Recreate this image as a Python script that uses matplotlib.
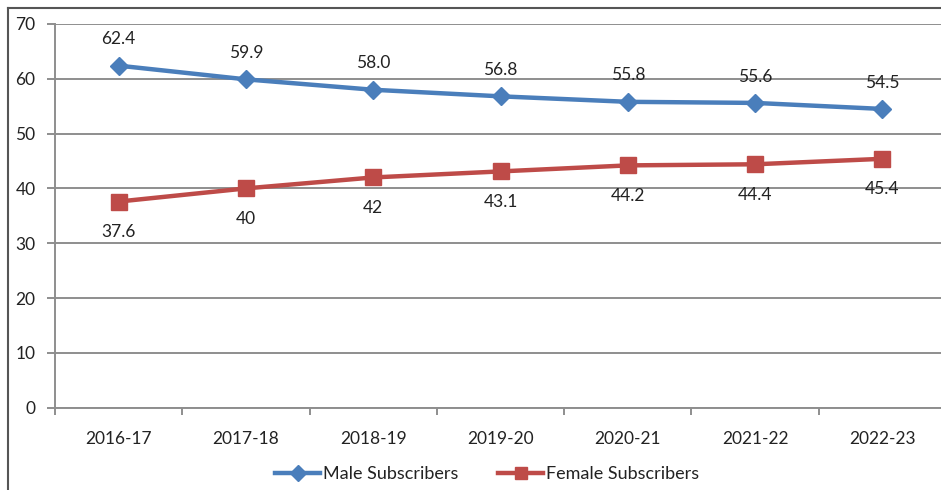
import matplotlib
matplotlib.use("Agg")
import matplotlib.pyplot as plt
from matplotlib.lines import Line2D
import numpy as np

years = ["2016-17", "2017-18", "2018-19", "2019-20", "2020-21", "2021-22", "2022-23"]
male = [62.4, 59.9, 58.0, 56.8, 55.8, 55.6, 54.5]
female = [37.6, 40, 42, 43.1, 44.2, 44.4, 45.4]
male_labels = ["62.4", "59.9", "58.0", "56.8", "55.8", "55.6", "54.5"]
female_labels = ["37.6", "40", "42", "43.1", "44.2", "44.4", "45.4"]

plt.rcParams['font.family'] = ['Lato', 'DejaVu Sans']

W, H = 941, 490
fig = plt.figure(figsize=(W / 100, H / 100), dpi=100)

# chart border (left and top visible)
fig.add_artist(Line2D([8 / W, 8 / W], [0, 1 - 8 / H], color="#555555", lw=1.5, transform=fig.transFigure))
fig.add_artist(Line2D([8 / W, 1], [1 - 8 / H, 1 - 8 / H], color="#555555", lw=1.5, transform=fig.transFigure))

left, right = 55 / W, 946 / W
bottom, top = 1 - 407.6 / H, 1 - 24 / H
ax = fig.add_axes([left, bottom, right - left, top - bottom])

x = np.arange(len(years))
blue = "#4a7ebb"
red = "#be4b48"
grid_c = "#8e8e8e"

ax.set_xlim(-0.5, len(years) - 0.5)
ax.set_ylim(0, 70)
ax.set_yticks(np.arange(0, 71, 10))
ax.yaxis.grid(True, color=grid_c, lw=1.4)
ax.set_axisbelow(True)

ax.plot(x, male, color=blue, lw=3.2, marker="D", markersize=9.5, label="Male Subscribers", zorder=3)
ax.plot(x, female, color=red, lw=3.2, marker="s", markersize=11, label="Female Subscribers", zorder=3)

for xi, v, t in zip(x, male, male_labels):
    ax.annotate(t, (xi, v), xytext=(0, 19), textcoords="offset points", ha="center", va="center",
                fontsize=12.5, color="#222222")
for xi, v, t in zip(x, female, female_labels):
    ax.annotate(t, (xi, v), xytext=(0, -22), textcoords="offset points", ha="center", va="center",
                fontsize=12.5, color="#222222")

for s in ["top", "right"]:
    ax.spines[s].set_visible(False)
ax.spines["left"].set_color(grid_c)
ax.spines["left"].set_linewidth(1.4)
ax.spines["bottom"].set_color(grid_c)
ax.spines["bottom"].set_linewidth(1.4)

ax.set_xticks(x)
ax.set_xticklabels(years)
ax.set_xticks(np.arange(-0.5, len(years)), minor=True)
ax.tick_params(axis="x", which="major", length=0, pad=17, labelsize=12.5, labelcolor="#222222")
ax.tick_params(axis="x", which="minor", length=5, width=1.4, color=grid_c, direction="out")
ax.tick_params(axis="y", length=6, width=1.4, color=grid_c, pad=8, labelsize=12.5, labelcolor="#222222")

leg = fig.legend(loc="center", bbox_to_anchor=(487 / W, 1 - 474 / H), ncol=2, frameon=False,
                 fontsize=13, handlelength=2.5, columnspacing=2.2, handletextpad=0.15, markerscale=0.85)
for t in leg.get_texts():
    t.set_color("#222222")

fig.savefig("out.png", dpi=100)
